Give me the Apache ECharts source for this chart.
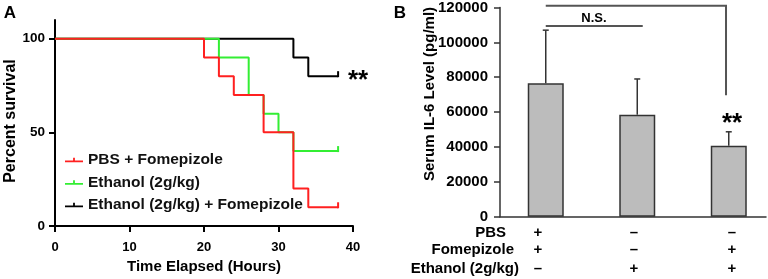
<!DOCTYPE html>
<html><head><meta charset="utf-8">
<script src="https://cdn.jsdelivr.net/npm/echarts@6/dist/echarts.min.js"></script>
<style>html,body{margin:0;padding:0;background:#fff}#c{width:768px;height:279px}</style>
</head><body><div id="c"></div>
<script>
// ---- Panel A data (Kaplan-Meier survival) ----
const survNames = ['PBS + Fomepizole', 'Ethanol (2g/kg)', 'Ethanol (2g/kg) + Fomepizole'];
const survPBSFome = [[0,100],[20,90],[22,80],[24,70],[28,50],[32,20],[34,10],[38,10]];
const survEthanol = [[0,100],[22,90],[26,70],[28,60],[30,50],[32,40],[38,40]];
const survEthanolFome = [[0,100],[32,90],[34,80],[38,80]];
const survYTicks = [0, 50, 100];
// ---- Panel B data (IL-6) ----
const il6Mean = [76500, 58500, 40700];
const il6ErrTop = [107000, 79000, 48700];
const rowLabels = ['PBS', 'Fomepizole', 'Ethanol (2g/kg)'];
const signs = [['+','+','–'], ['–','–','+'], ['–','+','+']]; // per bar: PBS, Fomepizole, Ethanol

const F = "'Liberation Sans', Arial, sans-serif";
const chart = echarts.init(document.getElementById('c'), null, {renderer: 'canvas'});
const colors = ['#ff2020', '#33ee33', '#000000'];
const icon = 'path://M0,5L20,5L20,7L0,7Z M9,2L11,2L11,7L9,7Z';

function km(data, color, name, z) {
  return {
    type: 'line', name, xAxisIndex: 0, yAxisIndex: 0, step: 'end', z,
    symbol: 'none', showSymbol: true,
    lineStyle: {color, width: 2}, itemStyle: {color},
    data: data.map((p, i) => i === data.length - 1
      ? {value: p, symbol: 'rect', symbolSize: [2, 6], symbolOffset: [0, -2]}
      : {value: p})
  };
}

const option = {
  animation: false,
  textStyle: {fontFamily: F},
  grid: [
    {left: 55, top: 20, width: 298, height: 208},
    {left: 500, top: 7.3, width: 266, height: 209.4}
  ],
  xAxis: [
    {gridIndex: 0, type: 'value', min: 0, max: 40, interval: 10,
     name: 'Time Elapsed (Hours)', nameLocation: 'middle', nameGap: 33,
     nameTextStyle: {fontFamily: F, fontWeight: 'bold', fontSize: 15, color: '#000'},
     axisLine: {lineStyle: {color: '#000', width: 2}},
     axisTick: {length: 6, lineStyle: {color: '#000', width: 2}},
     axisLabel: {margin: 15, fontFamily: F, fontWeight: 'bold', fontSize: 13, color: '#000'},
     splitLine: {show: false}},
    {gridIndex: 1, type: 'value', min: 0, max: 2.907,
     axisLine: {onZero: false, lineStyle: {color: '#333', width: 1.5}},
     axisTick: {show: false}, axisLabel: {show: false}, splitLine: {show: false}}
  ],
  yAxis: [
    {gridIndex: 0, type: 'value', min: 0, max: 110,
     name: 'Percent survival', nameLocation: 'middle', nameGap: 35,
     nameTextStyle: {fontFamily: F, fontWeight: 'bold', fontSize: 16, color: '#000', padding: [0, 0, 0, 4]},
     axisLine: {lineStyle: {color: '#000', width: 2}},
     axisTick: {length: 6, customValues: survYTicks, lineStyle: {color: '#000', width: 2}},
     axisLabel: {margin: 10, customValues: survYTicks, fontFamily: F, fontWeight: 'bold', fontSize: 13.5, color: '#000'},
     splitLine: {show: false}},
    {gridIndex: 1, type: 'value', min: 0, max: 120000, interval: 20000,
     axisLine: {lineStyle: {color: '#333', width: 1.5}},
     axisTick: {length: 6, lineStyle: {color: '#333', width: 1.5}},
     axisLabel: {margin: 12, formatter: v => String(v), fontFamily: F, fontWeight: 'bold', fontSize: 15, color: '#000'},
     splitLine: {show: false}}
  ],
  legend: {
    left: 65, top: 152, orient: 'vertical', padding: 0, itemGap: 6.5, itemWidth: 18, itemHeight: 8,
    data: survNames.map(n => ({name: n, icon})),
    textStyle: {fontFamily: F, fontWeight: 'bold', fontSize: 15.5, color: '#111', lineHeight: 16}
  },
  series: [
    km(survEthanolFome, colors[2], survNames[2], 2),
    km(survEthanol, colors[1], survNames[1], 3),
    km(survPBSFome, colors[0], survNames[0], 4),
    {type: 'bar', xAxisIndex: 1, yAxisIndex: 1, barWidth: 36,
     data: il6Mean.map((v, i) => [i + 0.5, v]),
     itemStyle: {color: '#bcbcbc', borderColor: '#333', borderWidth: 1.5}},
    {type: 'custom', xAxisIndex: 1, yAxisIndex: 1, z: 5,
     data: il6Mean.map((v, i) => [i + 0.5, v, il6ErrTop[i]]),
     renderItem: function (params, api) {
       const a = api.coord([api.value(0), api.value(1)]);
       const b = api.coord([api.value(0), api.value(2)]);
       const st = {stroke: '#333', lineWidth: 1.5};
       return {type: 'group', children: [
         {type: 'line', shape: {x1: a[0], y1: a[1], x2: b[0], y2: b[1]}, style: st},
         {type: 'line', shape: {x1: b[0] - 3, y1: b[1], x2: b[0] + 3, y2: b[1]}, style: st}
       ]};
     }}
  ]
};
chart.setOption(option);

// annotations positioned through the axes
const pB = (x, y) => chart.convertToPixel({xAxisIndex: 1, yAxisIndex: 1}, [x, y]);
const bold = (s, x, y, size, align) => ({type: 'text', x, y,
  style: {text: s, fontFamily: F, fontWeight: 'bold', fontSize: size, fill: '#000', align: align || 'center', verticalAlign: 'middle'}});
const g = [];
g.push(bold('A', 10, 13, 17));
g.push(bold('B', 400, 13, 17));
// y-axis title of panel B
g.push(Object.assign(bold('Serum IL-6 Level (pg/ml)', 430, 94, 15), {rotation: Math.PI / 2}));
// brackets
const l1 = pB(0.5, 121000), l2 = pB(2.47, 121000), l3 = pB(2.47, 69700);
const n1 = pB(0.5, 109400), n2 = pB(1.56, 109400);
const br = {stroke: '#555', lineWidth: 2};
g.push({type: 'polyline', shape: {points: [l1, l2, l3]}, style: Object.assign({fill: null}, br)});
g.push({type: 'line', shape: {x1: n1[0], y1: n1[1], x2: n2[0], y2: n2[1]}, style: br});
g.push(bold('N.S.', 594, 18, 13));
// stars
g.push(bold('**', 732, 124, 26));
g.push(bold('**', 358, 81, 26));
// category rows
const rowY = [233, 250, 269];
const rowRight = [506, 514, 519];
rowLabels.forEach((t, r) => g.push(bold(t, rowRight[r], rowY[r], 15, 'right')));
const symX = [538, 634, 732];
signs.forEach((col, i) => col.forEach((s, r) => g.push(bold(s, symX[i], rowY[r], 15))));
chart.setOption({graphic: {elements: g}});
</script></body></html>
